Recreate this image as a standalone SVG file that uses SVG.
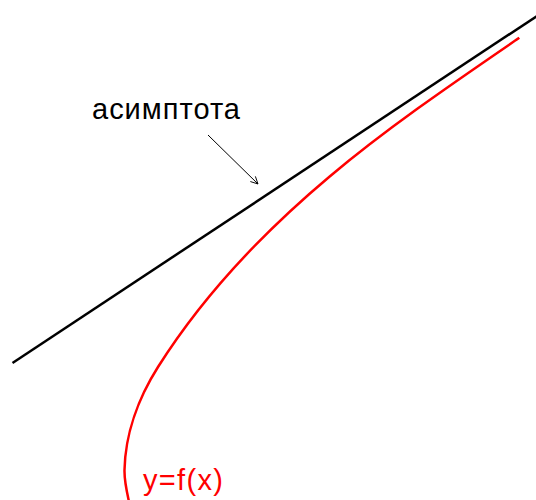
<svg xmlns="http://www.w3.org/2000/svg" width="536" height="500" viewBox="0 0 536 500">
<style>
.asym{stroke:#000;stroke-width:2.5;fill:none}
.curve{stroke:#f00;stroke-width:2.5;fill:none}
.ptr{stroke:#000;stroke-width:1;fill:none}
.lbl{font-family:"Liberation Sans",Arial,sans-serif;font-size:29px}
</style>
<defs>
<marker id="open" viewBox="0 0 10 10" refX="9" refY="5" markerWidth="9" markerHeight="9" markerUnits="userSpaceOnUse" orient="auto">
<path d="M1,1 L9,5 L1,9" fill="none" stroke="#000" stroke-width="1"/>
</marker>
</defs>
<rect width="536" height="500" fill="#fff"/>
<g id="connectors">
<line class="ptr" x1="208" y1="135" x2="258" y2="184" marker-end="url(#open)"/>
</g>
<g id="asymptote">
<line class="asym" x1="12.5" y1="363" x2="537" y2="16"/>
</g>
<g id="graph">
<path class="curve" d="M519.3,37.8 C454.6,82.2 389.5,126.3 329.4,176.7 C264.1,231.5 203.6,294.9 158,367 C138.7,397.4 125.2,434 124.5,470 C124.2,483.5 127.8,496.9 131,510"/>
</g>
<g id="label-asymptote">
<text class="lbl" x="92" y="119" fill="#000" textLength="148" lengthAdjust="spacing">асимптота</text>
</g>
<g id="label-function">
<text class="lbl" x="143" y="490" fill="#f00" textLength="80" lengthAdjust="spacing">y=f(x)</text>
</g>
</svg>
